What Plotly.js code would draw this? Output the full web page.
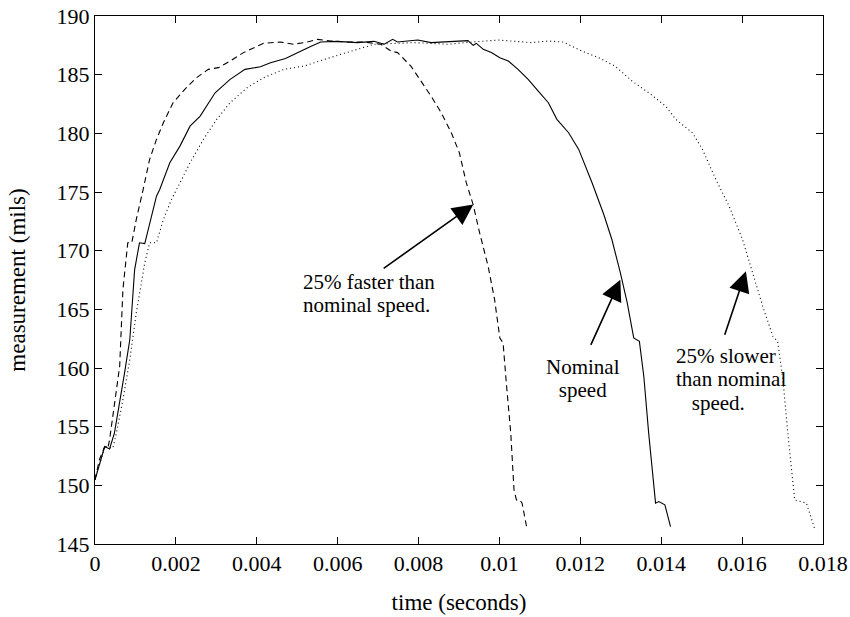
<!DOCTYPE html>
<html>
<head>
<meta charset="utf-8">
<script src="https://cdn.plot.ly/plotly-3.0.1.min.js"></script>
<style>
  html, body { margin: 0; padding: 0; background: #fff; }
  #chart { width: 850px; height: 617px; }
</style>
</head>
<body>
<div id="chart"></div>
<script>
// ---- Data ----
const nominalTime = [0, 0.00024, 0.00036, 0.00048, 0.00073, 0.00086, 0.00098, 0.0011, 0.00123, 0.00135, 0.00152, 0.0016, 0.00185, 0.0021, 0.00235, 0.0026, 0.00297, 0.00334, 0.00371, 0.00409, 0.00434, 0.00471, 0.005, 0.00533, 0.00558, 0.00599, 0.00649, 0.0069, 0.00715, 0.00736, 0.00748, 0.00798, 0.00831, 0.00873, 0.00922, 0.00935, 0.00943, 0.0096, 0.0098, 0.01001, 0.01022, 0.01046, 0.01071, 0.01096, 0.01121, 0.01142, 0.01171, 0.01196, 0.01229, 0.01258, 0.01278, 0.01299, 0.01316, 0.01332, 0.01346, 0.01357, 0.01369, 0.01386, 0.01394, 0.01409, 0.01423];
const nominalValue = [150.47, 153.3, 153.1, 154.45, 159.57, 162.41, 168.39, 170.67, 170.6, 172.37, 174.64, 175.21, 177.49, 178.91, 180.61, 181.47, 183.46, 184.6, 185.45, 185.68, 186.02, 186.37, 186.88, 187.39, 187.78, 187.84, 187.73, 187.84, 187.59, 188.01, 187.78, 187.95, 187.73, 187.78, 187.9, 187.5, 187.67, 187.16, 186.88, 186.45, 186.16, 185.45, 184.6, 183.6, 182.61, 181.19, 180.05, 178.63, 175.79, 173.08, 170.95, 168.11, 165.55, 162.56, 162.27, 159.28, 154.45, 148.48, 148.62, 148.34, 146.49];

const fasterTime = [0, 0.00011, 0.00024, 0.00032, 0.00036, 0.00048, 0.00061, 0.00069, 0.00081, 0.00091, 0.00102, 0.00119, 0.00135, 0.00152, 0.00169, 0.00193, 0.00222, 0.00251, 0.0028, 0.00305, 0.00334, 0.00367, 0.00392, 0.00417, 0.00458, 0.00491, 0.00525, 0.0055, 0.00583, 0.00624, 0.00665, 0.00707, 0.00732, 0.00748, 0.00781, 0.00806, 0.00831, 0.00856, 0.00881, 0.00901, 0.00918, 0.00935, 0.00951, 0.00972, 0.00988, 0.01001, 0.01009, 0.01017, 0.01028, 0.01036, 0.01042, 0.0105, 0.01056, 0.01067];
const fasterValue = [150.47, 152.2, 153.3, 153.17, 153.88, 156.72, 160.14, 166.68, 170.67, 170.67, 172.65, 175.21, 177.77, 179.48, 180.9, 182.61, 183.75, 184.74, 185.45, 185.6, 186.16, 186.88, 187.3, 187.67, 187.78, 187.59, 187.78, 188.01, 187.87, 187.78, 187.78, 187.59, 187.01, 186.88, 185.73, 184.45, 183.17, 181.76, 180.05, 178.34, 175.79, 173.93, 171.52, 168.67, 165.83, 162.56, 162.13, 158.72, 154.45, 149.62, 148.76, 148.76, 148.48, 146.49];

const slowerTime = [0, 0.00024, 0.00044, 0.00053, 0.00069, 0.00086, 0.00102, 0.00115, 0.00123, 0.00135, 0.00152, 0.00169, 0.00189, 0.00206, 0.00235, 0.00268, 0.00301, 0.00334, 0.00376, 0.00417, 0.00467, 0.00516, 0.00566, 0.00607, 0.00649, 0.0069, 0.0079, 0.00873, 0.00914, 0.00997, 0.0108, 0.01121, 0.01158, 0.01204, 0.01245, 0.01286, 0.01328, 0.01369, 0.01411, 0.01436, 0.01477, 0.01502, 0.01535, 0.01568, 0.01601, 0.01626, 0.01651, 0.01676, 0.01688, 0.01701, 0.01713, 0.0173, 0.01742, 0.01759, 0.01779];
const slowerValue = [150.47, 153.3, 153.17, 154.45, 157.3, 160.71, 164.69, 167.53, 168.96, 170.67, 170.67, 172.65, 174.36, 175.5, 177.49, 179.48, 181.19, 182.61, 183.89, 184.74, 185.45, 185.73, 186.31, 186.73, 187.16, 187.59, 187.73, 187.59, 187.73, 187.95, 187.73, 187.87, 187.78, 187.01, 186.45, 185.73, 184.45, 183.46, 182.32, 181.19, 180.05, 178.63, 176.07, 173.79, 170.95, 168.11, 165.26, 162.7, 162.27, 159.0, 154.45, 148.76, 148.62, 148.48, 146.35];

const xTickValues = [0, 0.002, 0.004, 0.006, 0.008, 0.01, 0.012, 0.014, 0.016, 0.018];
const xTickLabels = ["0", "0.002", "0.004", "0.006", "0.008", "0.01", "0.012", "0.014", "0.016", "0.018"];
const yTickValues = [145, 150, 155, 160, 165, 170, 175, 180, 185, 190];
const yTickLabels = ["145", "150", "155", "160", "165", "170", "175", "180", "185", "190"];

const xTitle = "time (seconds)";
const yTitle = "measurement (mils)";

const fasterLabel = ["25% faster than", "nominal speed."];
const nominalLabel = ["Nominal", "speed"];
const slowerLabel = ["25% slower", "than nominal", "\u00a0\u00a0\u00a0speed."];

// ---- Styling ----
const FONT = "Liberation Serif, Times New Roman, serif";
const lineStyle = (dash) => ({ color: "#000", width: 1.1, dash: dash });

const traces = [
  { x: fasterTime, y: fasterValue, type: "scatter", mode: "lines", line: lineStyle("6px,4px"), hoverinfo: "skip" },
  { x: nominalTime, y: nominalValue, type: "scatter", mode: "lines", line: lineStyle("solid"), hoverinfo: "skip" },
  { x: slowerTime, y: slowerValue, type: "scatter", mode: "lines", line: lineStyle("1px,3px"), hoverinfo: "skip" }
];

const arrow = (x, y, ax, ay) => ({
  x: x, y: y, ax: ax, ay: ay, xref: "x", yref: "y", axref: "x", ayref: "y",
  text: "", showarrow: true, arrowhead: 2, arrowsize: 2.6, arrowwidth: 1.6,
  arrowcolor: "#000", standoff: 0, startstandoff: 0
});
// Tight line spacing (as in the reference): the annotation's own font size sets
// line spacing, each line is drawn at 21px via a styled span.
const label = (lines, x, y, xanchor, align) => ({
  x: x, y: y, xref: "x", yref: "y",
  text: lines.map(s => '<span style="font-size:21px">' + s + '</span>').join("<br>"),
  showarrow: false, xanchor: xanchor, yanchor: "middle", align: align,
  borderpad: 0, font: { family: FONT, size: 18, color: "#000" }
});

const annotations = [
  arrow(0.009354, 173.93, 0.007100, 168.4),
  arrow(0.012989, 167.53, 0.012243, 161.84),
  arrow(0.016094, 168.24, 0.015558, 162.70),
  label(fasterLabel, 0.005106, 166.34, "left", "left"),
  label(nominalLabel, 0.012075, 159.13, "center", "center"),
  label(slowerLabel, 0.014348, 159.0, "left", "left")
];

const axisCommon = {
  showgrid: false, zeroline: false, showline: true, linecolor: "#000", linewidth: 1,
  mirror: "ticks", ticks: "inside", ticklen: 7, tickwidth: 1, tickcolor: "#000",
  tickfont: { family: FONT, size: 22, color: "#000" }, tickmode: "array"
};

const layout = {
  width: 850, height: 617,
  margin: { l: 95, r: 27, t: 16, b: 73 },
  paper_bgcolor: "#fff", plot_bgcolor: "#fff",
  showlegend: false,
  font: { family: FONT, color: "#000" },
  xaxis: Object.assign({}, axisCommon, {
    range: [0, 0.018], tickvals: xTickValues, ticktext: xTickLabels,
    title: { text: xTitle, font: { family: FONT, size: 23, color: "#000" }, standoff: 18 }
  }),
  yaxis: Object.assign({}, axisCommon, {
    range: [145, 190], tickvals: yTickValues, ticktext: yTickLabels,
    title: { text: yTitle, font: { family: FONT, size: 23, color: "#000" }, standoff: 24 }
  }),
  annotations: annotations
};

Plotly.newPlot("chart", traces, layout, { staticPlot: true, displayModeBar: false });
</script>
</body>
</html>
